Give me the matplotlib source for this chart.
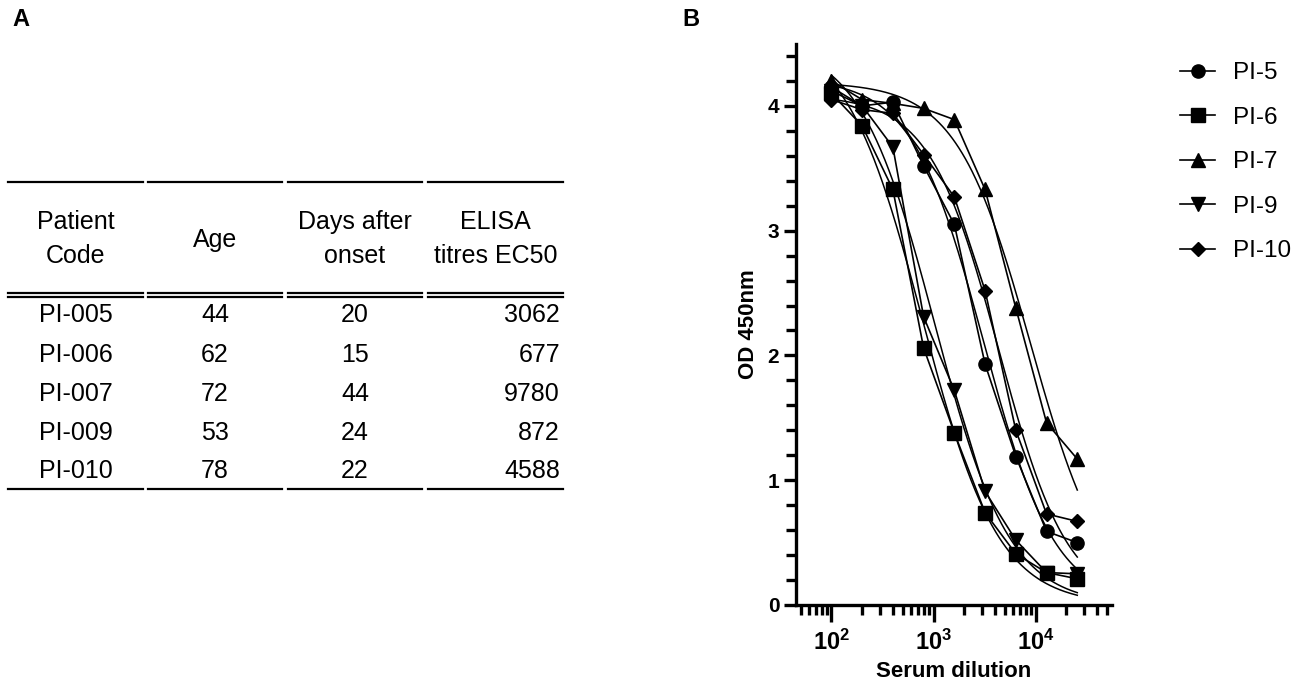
#!/usr/bin/env python3
"""Patient table (A) and ELISA dilution curves (B)."""

import matplotlib
matplotlib.use("Agg")
import matplotlib.pyplot as plt
import numpy as np
from matplotlib.ticker import MultipleLocator, LogLocator, FixedLocator

plt.rcParams["font.family"] = ["Liberation Sans", "DejaVu Sans"]
plt.rcParams["mathtext.fontset"] = "custom"
plt.rcParams["mathtext.rm"] = "Liberation Sans"
plt.rcParams["mathtext.bf"] = "Liberation Sans:bold"

# ---- table data (panel A) ----
table_header = [["Patient", "Code"], ["Age"], ["Days after", "onset"], ["ELISA", "titres EC50"]]
patient_codes = ["PI-005", "PI-006", "PI-007", "PI-009", "PI-010"]
ages = [44, 62, 72, 53, 78]
days_after_onset = [20, 15, 44, 24, 22]
elisa_ec50 = [3062, 677, 9780, 872, 4588]

# ---- dilution curve data (panel B) ----
dilutions = [100, 200, 400, 800, 1600, 3200, 6400, 12800, 25600]
series_labels = ["PI-5", "PI-6", "PI-7", "PI-9", "PI-10"]
series_markers = ["o", "s", "^", "v", "D"]
od_pi5 = [4.15, 4.00, 4.03, 3.52, 3.05, 1.93, 1.19, 0.59, 0.50]
od_pi6 = [4.10, 3.84, 3.33, 2.06, 1.38, 0.74, 0.41, 0.26, 0.21]
od_pi7 = [4.20, 4.05, 4.02, 3.98, 3.89, 3.33, 2.38, 1.46, 1.17]
od_pi9 = [4.12, 4.00, 3.67, 2.31, 1.72, 0.91, 0.52, 0.26, 0.25]
od_pi10 = [4.05, 3.97, 3.94, 3.61, 3.27, 2.52, 1.40, 0.73, 0.67]
series_values = [od_pi5, od_pi6, od_pi7, od_pi9, od_pi10]


def fit_sigmoid(x, y):
    """Least-squares logistic fit (bottom fixed at 0) by grid over (logEC50, hill)."""
    lx = np.log10(np.asarray(x, dtype=float))
    y = np.asarray(y, dtype=float)
    cs, hs = np.meshgrid(np.linspace(1.5, 5.5, 401), np.linspace(0.3, 4.0, 186))
    cs = cs.ravel()[:, None]
    hs = hs.ravel()[:, None]
    s = 1.0 / (1.0 + 10 ** ((lx[None, :] - cs) * hs))
    top = (s * y).sum(axis=1, keepdims=True) / (s * s).sum(axis=1, keepdims=True)
    err = ((top * s - y) ** 2).sum(axis=1)
    i = int(np.argmin(err))
    return float(top[i, 0]), float(cs[i, 0]), float(hs[i, 0])


def eval_sigmoid(params, x):
    top, c, h = params
    return top / (1.0 + 10 ** ((np.log10(x) - c) * h))


W, H = 1299, 693
fig = plt.figure(figsize=(W / 100, H / 100), dpi=100)

# ---- panel A: table drawn in pixel coordinates ----
tab = fig.add_axes([0, 0, 1, 1])
tab.set_xlim(0, W)
tab.set_ylim(H, 0)
tab.axis("off")

col_spans = [(8, 143), (148, 282), (288, 422), (428, 563)]
col_centers = [(a + b) / 2 for a, b in col_spans]
fs = 18
lw_tab = 1.6
for a, b in col_spans:
    tab.plot([a, b], [181.5, 181.5], color="black", lw=lw_tab)
    tab.plot([a, b], [292.5, 292.5], color="black", lw=lw_tab)
    tab.plot([a, b], [296.5, 296.5], color="black", lw=lw_tab)
    tab.plot([a, b], [489, 489], color="black", lw=lw_tab)
for ci, lines in enumerate(table_header):
    if len(lines) == 2:
        tab.text(col_centers[ci], 222, lines[0], ha="center", va="center", fontsize=fs)
        tab.text(col_centers[ci], 256, lines[1], ha="center", va="center", fontsize=fs)
    else:
        tab.text(col_centers[ci], 240, lines[0], ha="center", va="center", fontsize=fs)
row_y = [315, 355, 394, 433, 471]
for ri in range(len(patient_codes)):
    y = row_y[ri]
    tab.text(col_centers[0], y, patient_codes[ri], ha="center", va="center", fontsize=fs)
    tab.text(col_centers[1], y, str(ages[ri]), ha="center", va="center", fontsize=fs)
    tab.text(col_centers[2], y, str(days_after_onset[ri]), ha="center", va="center", fontsize=fs)
    tab.text(560, y, str(elisa_ec50[ri]), ha="right", va="center", fontsize=fs)

tab.text(12, 20, "A", fontsize=17, fontweight="bold", ha="left", va="center")
tab.text(682, 20, "B", fontsize=17, fontweight="bold", ha="left", va="center")

# ---- panel B: dilution curves ----
ax = fig.add_axes([796 / W, 1 - 605 / H, (1112 - 796) / W, (605 - 43.5) / H])
xfit = np.geomspace(dilutions[0], dilutions[-1], 300)
handles = []
for lab, mk, vals in zip(series_labels, series_markers, series_values):
    ms = 7.5 if mk == "D" else 9.5
    (ln,) = ax.plot(dilutions, vals, color="black", lw=1.2, marker=mk, ms=ms,
                    label=lab, zorder=3)
    handles.append(ln)
    params = fit_sigmoid(dilutions, vals)
    ax.plot(xfit, eval_sigmoid(params, xfit), color="black", lw=1.1, zorder=2)

ax.set_xscale("log")
ax.set_xlim(45, 56000)
ax.set_ylim(0, 4.5)
ax.xaxis.set_major_locator(FixedLocator([1e2, 1e3, 1e4]))
ax.xaxis.set_minor_locator(LogLocator(base=10, subs=np.arange(2, 10), numticks=20))
ax.set_xticklabels([r"$\mathbf{10^{2}}$", r"$\mathbf{10^{3}}$", r"$\mathbf{10^{4}}$"])
ax.yaxis.set_major_locator(MultipleLocator(1))
ax.yaxis.set_minor_locator(MultipleLocator(0.2))
for s in ("top", "right"):
    ax.spines[s].set_visible(False)
for s in ("left", "bottom"):
    ax.spines[s].set_linewidth(2.4)
ax.tick_params(axis="both", which="both", direction="out", width=2.4, color="black")
ax.tick_params(axis="x", which="major", length=12, labelsize=17, pad=6)
ax.tick_params(axis="x", which="minor", length=7)
ax.tick_params(axis="y", which="major", length=9, labelsize=15, pad=3)
ax.tick_params(axis="y", which="minor", length=7)
for t in ax.get_yticklabels():
    t.set_fontweight("bold")
ax.set_xlabel("Serum dilution", fontsize=16, fontweight="bold", labelpad=4)
ax.set_ylabel("OD 450nm", fontsize=16, fontweight="bold", labelpad=6)

fig.legend(handles=handles, loc="upper left", bbox_to_anchor=(1180 / W, 1 - 62 / H),
           frameon=False, fontsize=17.5, handlelength=1.45, handletextpad=0.75,
           labelspacing=0.93, borderaxespad=0, borderpad=0)

fig.savefig("out.png", dpi=100)
